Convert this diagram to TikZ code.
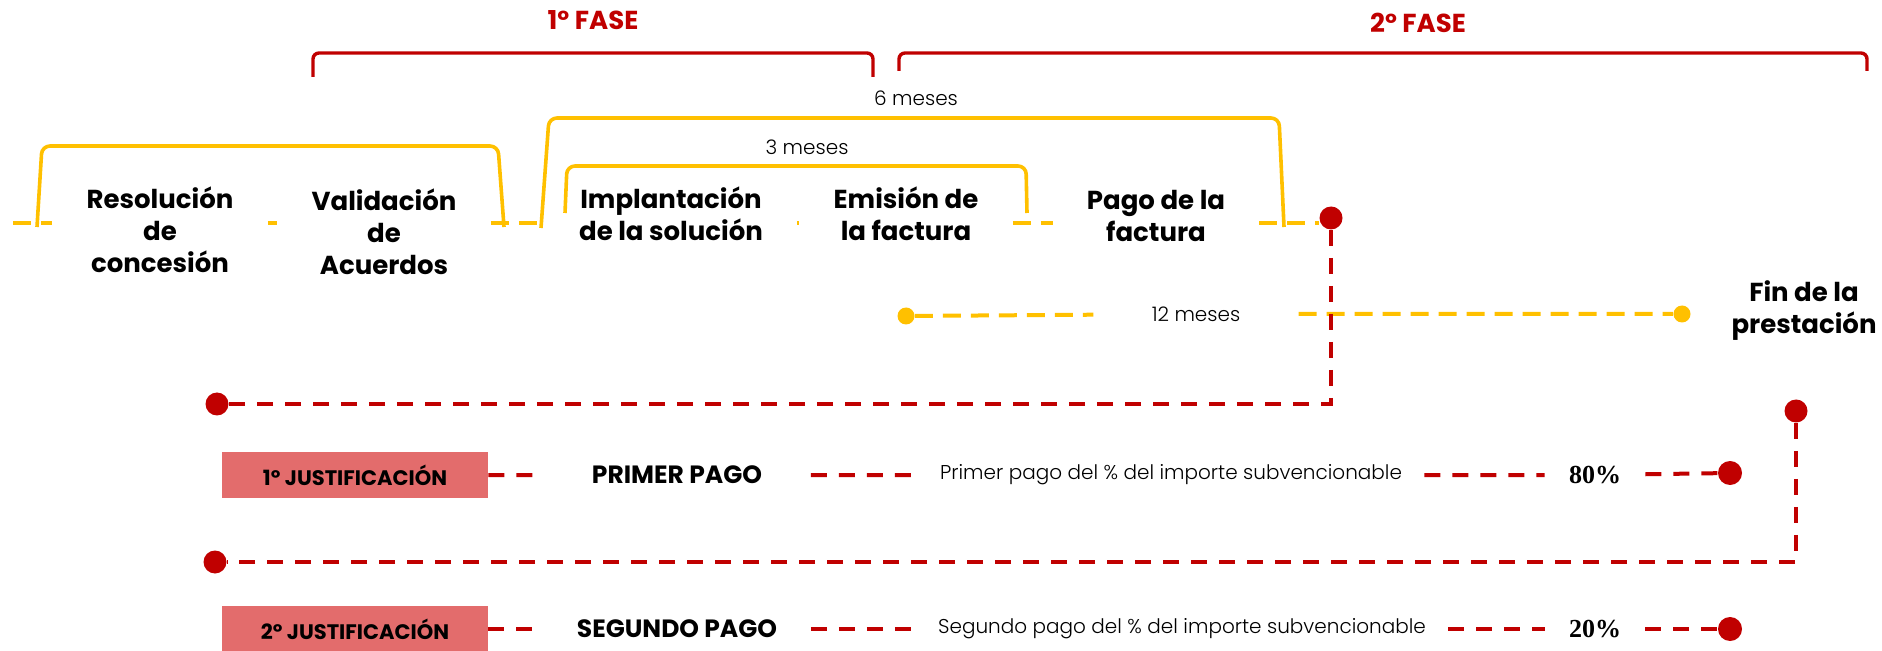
\documentclass[tikz,border=0pt]{standalone}
\usepackage{fontspec}
\setmainfont{Poppins}
\newfontfamily\lightfont{Poppins Light}
\newfontfamily\numfont{Liberation Serif}
\definecolor{fasered}{HTML}{C00000}
\definecolor{mesyellow}{HTML}{FFC000}
\definecolor{boxpink}{HTML}{E36C6C}

\begin{document}
\begin{tikzpicture}[x=0.5pt,y=-0.5pt,
  redbracket/.style={fasered,line width=1.7pt,rounded corners=3pt},
  ybracket/.style={mesyellow,line width=1.8pt,rounded corners=4pt},
  ydash/.style={mesyellow,line width=2pt,dash pattern=on 9pt off 5pt},
  rdash/.style={fasered,line width=2pt,dash pattern=on 8pt off 6pt},
  fase/.style={text=fasered,font=\fontsize{13}{16}\selectfont\bfseries},
  meses/.style={font=\fontsize{10}{12}\lightfont},
  stepnode/.style={align=center,inner xsep=17pt,font=\fontsize{13}{16}\selectfont\bfseries},
  rdot/.style={circle,fill=fasered,inner sep=0pt,minimum size=11.5pt},
  ydot/.style={circle,fill=mesyellow,inner sep=0pt,minimum size=8.5pt},
  jbox/.style={fill=boxpink,inner sep=0pt,minimum width=133pt,minimum height=23pt,font=\fontsize{10.5}{12}\selectfont\bfseries},
  pagonode/.style={inner xsep=0pt,minimum width=133.5pt,font=\fontsize{12.5}{15}\selectfont\bfseries},
  descnode/.style={inner xsep=11pt,font=\fontsize{10}{12}\lightfont},
  pctnode/.style={inner xsep=12pt,font=\fontsize{13}{15}\numfont\bfseries}]
\useasboundingbox (0,0) rectangle (1882,651);

\node[fase] (fase1) at (593,20) {1º FASE};
\node[fase] (fase2) at (1418,23) {2º FASE};
\draw[redbracket] (313,77) -- (313,53) -- (873,53) -- (873,77);
\draw[redbracket] (899,71) -- (899,53) -- (1867,53) -- (1867,71);

\node[meses] (seis) at (916,98) {6 meses};
\node[meses] (tres) at (807,147) {3 meses};
\draw[ybracket] (37,227) -- (42,146) -- (498,146) -- (504,227);
\draw[ybracket] (541,228) -- (549,118) -- (1279,118) -- (1284,227);
\draw[ybracket] (565,213) -- (567,166) -- (1026,166) -- (1027,213);

\coordinate (base) at (13,223);
\node[stepnode] (res) at (160,230) {Resolución\\de\\concesión};
\node[stepnode] (val) at (384,232) {Validación\\de\\Acuerdos};
\node[stepnode] (imp) at (671,214) {Implantación\\de la solución};
\node[stepnode] (emi) at (906,214) {Emisión de\\la factura};
\node[stepnode] (pag) at (1156,216) {Pago de la\\factura};
\node[rdot] (fin1) at (1331,218) {};
\draw[ydash] (base) -- (res.west |- base);
\draw[ydash] (res.east |- base) -- (val.west |- base);
\draw[ydash] (val.east |- base) -- (imp.west |- base);
\draw[ydash] (imp.east |- base) -- (emi.west |- base);
\draw[ydash] (emi.east |- base) -- (pag.west |- base);
\draw[ydash] (pag.east |- base) -- (fin1.west |- base);

\node[ydot] (yA) at (906,316) {};
\node[meses,inner xsep=29pt] (doce) at (1196,314) {12 meses};
\node[ydot] (yB) at (1682,314) {};
\draw[ydash] (yA) -- (doce) -- (yB);
\node[stepnode,inner xsep=0pt] (fin) at (1804,311) {Fin de la\\prestación};

\node[rdot] (rA) at (217,404) {};
\coordinate (codo1) at (1331,404);
\draw[rdash] (fin1) -- (codo1) -- (rA);
\node[rdot] (fin2) at (1796,411) {};
\node[rdot] (rB) at (215,562) {};
\coordinate (codo2) at (1796,562);
\draw[rdash] (fin2) -- (codo2) -- (rB);

\node[jbox] (jus1) at (355,475) {1º JUSTIFICACIÓN};
\node[pagonode] (pago1) at (677,475) {PRIMER PAGO};
\node[descnode] (desc1) at (1171,475) {Primer pago del \% del importe subvencionable};
\node[pctnode] (pct1) at (1595,475) {80\%};
\node[rdot,minimum size=12pt] (p1) at (1730,473) {};
\draw[rdash] (jus1) -- (pago1) -- (desc1) -- (pct1) -- (p1);

\node[jbox] (jus2) at (355,629) {2º JUSTIFICACIÓN};
\node[pagonode] (pago2) at (677,629) {SEGUNDO PAGO};
\node[descnode] (desc2) at (1182,629) {Segundo pago del \% del importe subvencionable};
\node[pctnode] (pct2) at (1595,629) {20\%};
\node[rdot,minimum size=12pt] (p2) at (1730,629) {};
\draw[rdash] (jus2) -- (pago2) -- (desc2) -- (pct2) -- (p2);
\end{tikzpicture}
\end{document}
